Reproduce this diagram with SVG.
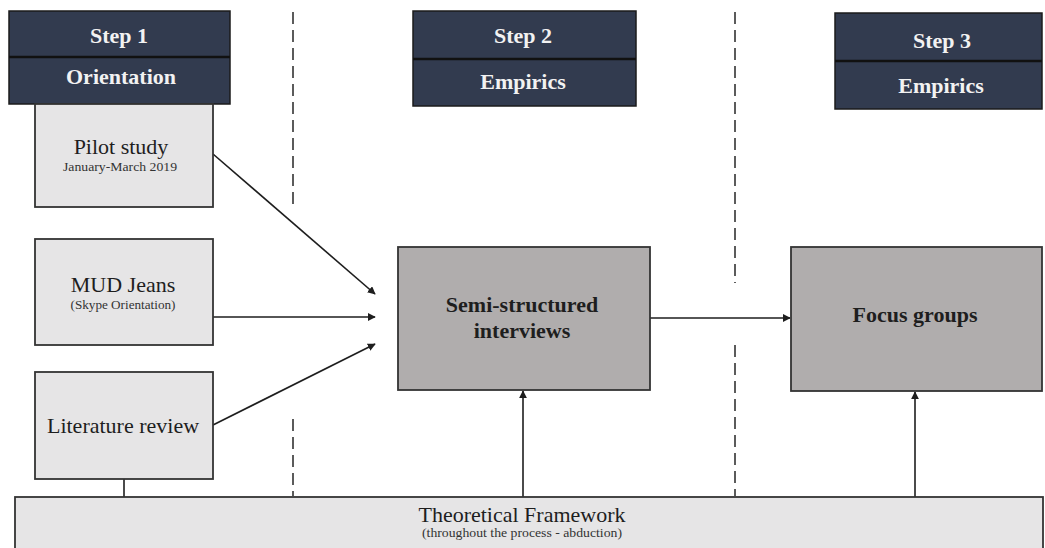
<svg xmlns="http://www.w3.org/2000/svg" width="1045" height="548" viewBox="0 0 1045 548">
  <style>
    .hdr { fill: #323b4f; stroke: #1b1b1b; stroke-width: 1.5; }
    .hdr-div { stroke: #111; stroke-width: 2.5; }
    .hdr-txt { font-family: "Liberation Serif", "Times New Roman", serif; font-weight: bold; font-size: 22px; fill: #f2f2f2; text-anchor: middle; }
    .light { fill: #e6e5e6; stroke: #333; stroke-width: 1.8; }
    .dark { fill: #b0adad; stroke: #333; stroke-width: 1.8; }
    .txt { font-family: "Liberation Serif", "Times New Roman", serif; font-size: 22px; fill: #1e1e1e; text-anchor: middle; }
    .sub { font-family: "Liberation Serif", "Times New Roman", serif; font-size: 12px; fill: #333; text-anchor: middle; }
    .bold { font-weight: bold; }
    .conn { stroke: #1e1e1e; stroke-width: 1.6; fill: none; }
    .dash { stroke: #333; stroke-width: 1.6; stroke-dasharray: 12 6; fill: none; }
  </style>
  <defs>
    <marker id="arrow" viewBox="0 0 10 10" refX="9" refY="5" markerWidth="5" markerHeight="5" orient="auto" markerUnits="strokeWidth">
      <path d="M0,0 L10,5 L0,10 z" fill="#1e1e1e"/>
    </marker>
  </defs>

  <rect width="1045" height="548" fill="#ffffff"/>

  <!-- phase separators -->
  <g id="separators">
    <line class="dash" x1="293" y1="12" x2="293" y2="207"/>
    <line class="dash" x1="293" y1="419" x2="293" y2="496"/>
    <line class="dash" x1="735" y1="12" x2="735" y2="283"/>
    <line class="dash" x1="735" y1="345" x2="735" y2="496"/>
  </g>

  <!-- step headers -->
  <g id="step1">
    <rect class="hdr" x="9" y="11" width="221" height="93"/>
    <line class="hdr-div" x1="9" y1="57" x2="230" y2="57"/>
    <text class="hdr-txt" x="119" y="43">Step 1</text>
    <text class="hdr-txt" x="121" y="84">Orientation</text>
  </g>
  <g id="step2">
    <rect class="hdr" x="413" y="11" width="223" height="95"/>
    <line class="hdr-div" x1="413" y1="59" x2="636" y2="59"/>
    <text class="hdr-txt" x="523" y="43">Step 2</text>
    <text class="hdr-txt" x="523" y="89">Empirics</text>
  </g>
  <g id="step3">
    <rect class="hdr" x="835" y="13" width="207" height="96"/>
    <line class="hdr-div" x1="835" y1="61" x2="1042" y2="61"/>
    <text class="hdr-txt" x="942" y="48">Step 3</text>
    <text class="hdr-txt" x="941" y="93">Empirics</text>
  </g>

  <!-- connectors -->
  <g id="connectors">
    <line class="conn" x1="213" y1="154" x2="375" y2="294" marker-end="url(#arrow)"/>
    <line class="conn" x1="213" y1="317" x2="375" y2="317" marker-end="url(#arrow)"/>
    <line class="conn" x1="213" y1="425" x2="375" y2="344" marker-end="url(#arrow)"/>
    <line class="conn" x1="650" y1="318" x2="790" y2="318" marker-end="url(#arrow)"/>
    <line class="conn" x1="523" y1="497" x2="523" y2="391" marker-end="url(#arrow)"/>
    <line class="conn" x1="915" y1="497" x2="915" y2="392" marker-end="url(#arrow)"/>
    <line class="conn" x1="124" y1="479" x2="124" y2="497"/>
  </g>

  <!-- orientation sources -->
  <g id="pilot-study">
    <rect class="light" x="35" y="104" width="178" height="103"/>
    <text class="txt" x="121" y="154">Pilot study</text>
    <text class="sub" x="120" y="171" textLength="114" lengthAdjust="spacingAndGlyphs">January-March 2019</text>
  </g>
  <g id="mud-jeans">
    <rect class="light" x="35" y="239" width="178" height="106"/>
    <text class="txt" x="123" y="292">MUD Jeans</text>
    <text class="sub" x="123" y="309" textLength="105" lengthAdjust="spacingAndGlyphs">(Skype Orientation)</text>
  </g>
  <g id="literature-review">
    <rect class="light" x="35" y="372" width="178" height="107"/>
    <text class="txt" x="123" y="433">Literature review</text>
  </g>

  <!-- empirical steps -->
  <g id="interviews">
    <rect class="dark" x="398" y="247" width="252" height="143"/>
    <text class="txt bold" x="522" y="312">Semi-structured</text>
    <text class="txt bold" x="522" y="338">interviews</text>
  </g>
  <g id="focus-groups">
    <rect class="dark" x="791" y="247" width="251" height="144"/>
    <text class="txt bold" x="915" y="322">Focus groups</text>
  </g>

  <!-- framework band -->
  <g id="theoretical-framework">
    <rect class="light" x="15" y="497" width="1028" height="60"/>
    <text class="txt" x="522" y="522">Theoretical Framework</text>
    <text class="sub" x="522" y="537" textLength="200" lengthAdjust="spacingAndGlyphs">(throughout the process - abduction)</text>
  </g>
</svg>
